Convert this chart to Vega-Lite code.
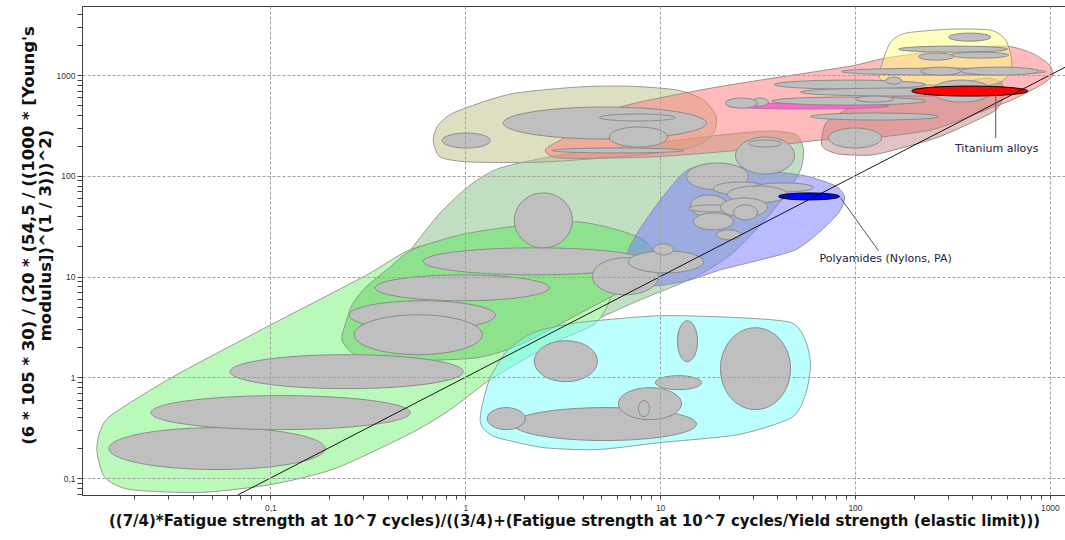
{
  "width": 984,
  "height": 489,
  "autosize": "none",
  "padding": {"left": 82, "top": 6, "right": 0, "bottom": 45},
  "background": "white",
  "config": {"view": {"stroke": "#404040", "strokeWidth": 1}, "font": "DejaVu Sans"},
  "datasets": {
    "env": [
      {"g":"sage","k":1,"x":0.4636,"y":13.09},{"g":"sage","k":2,"x":0.5342,"y":19.29},{"g":"sage","k":3,"x":0.7439,"y":42.88},{"g":"sage","k":4,"x":1.061,"y":81.23},{"g":"sage","k":5,"x":1.512,"y":119.8},{"g":"sage","k":6,"x":3.075,"y":161.1},{"g":"sage","k":7,"x":7.923,"y":202.4},{"g":"sage","k":8,"x":20.4,"y":254.3},{"g":"sage","k":9,"x":36.86,"y":278.6},{"g":"sage","k":10,"x":50.13,"y":254.3},{"g":"sage","k":11,"x":54.45,"y":180.5},{"g":"sage","k":12,"x":52.55,"y":114.4},{"g":"sage","k":13,"x":44.01,"y":64.7},{"g":"sage","k":14,"x":32.74,"y":32.61},{"g":"sage","k":15,"x":22.96,"y":16.45},{"g":"sage","k":16,"x":14.83,"y":9.73},{"g":"sage","k":17,"x":7.923,"y":5.89},{"g":"sage","k":18,"x":4.652,"y":3.73},{"g":"sage","k":19,"x":3.075,"y":2.65},{"g":"sage","k":20,"x":1.512,"y":3.73},{"g":"sage","k":21,"x":0.7439,"y":5.89},
      {"g":"bg","k":1,"x":0.01288,"y":0.1835},{"g":"bg","k":2,"x":0.01335,"y":0.2896},{"g":"bg","k":3,"x":0.01538,"y":0.427},{"g":"bg","k":4,"x":0.0324,"y":1.039},{"g":"bg","k":5,"x":0.1008,"y":3.329},{"g":"bg","k":6,"x":0.3065,"y":10.18},{"g":"bg","k":7,"x":0.5342,"y":18.86},{"g":"bg","k":8,"x":1.061,"y":24.24},{"g":"bg","k":9,"x":2.733,"y":18.44},{"g":"bg","k":10,"x":5.555,"y":8.291},{"g":"bg","k":11,"x":4.764,"y":3.565},{"g":"bg","k":12,"x":3.075,"y":2.363},{"g":"bg","k":13,"x":1.916,"y":1.431},{"g":"bg","k":14,"x":1.297,"y":0.906},{"g":"bg","k":15,"x":0.8375,"y":0.4785},{"g":"bg","k":16,"x":0.5342,"y":0.2831},{"g":"bg","k":17,"x":0.2149,"y":0.1245},{"g":"bg","k":18,"x":0.1008,"y":0.08642},{"g":"bg","k":19,"x":0.04355,"y":0.07199},{"g":"bg","k":20,"x":0.01903,"y":0.07709},{"g":"bg","k":21,"x":0.01416,"y":0.1014},
      {"g":"mid","k":1,"x":0.2335,"y":2.31},{"g":"mid","k":2,"x":0.2447,"y":3.565},{"g":"mid","k":3,"x":0.2628,"y":5.253},{"g":"mid","k":4,"x":0.3065,"y":7.745},{"g":"mid","k":5,"x":0.4072,"y":12.23},{"g":"mid","k":6,"x":0.5342,"y":18.44},{"g":"mid","k":7,"x":0.9426,"y":25.96},{"g":"mid","k":8,"x":1.702,"y":31.15},{"g":"mid","k":9,"x":3.761,"y":34.92},{"g":"mid","k":10,"x":6.035,"y":29.1},{"g":"mid","k":11,"x":8.208,"y":23.15},{"g":"mid","k":12,"x":9.572,"y":16.08},{"g":"mid","k":13,"x":9.13,"y":11.68},{"g":"mid","k":14,"x":6.792,"y":7.745},{"g":"mid","k":15,"x":3.761,"y":4.182},{"g":"mid","k":16,"x":1.916,"y":2.109},{"g":"mid","k":17,"x":1.152,"y":1.567},{"g":"mid","k":18,"x":0.5219,"y":1.464},{"g":"mid","k":19,"x":0.2888,"y":1.567},
      {"g":"khaki","k":1,"x":0.685,"y":226.9},{"g":"khaki","k":2,"x":0.7268,"y":319.4},{"g":"khaki","k":3,"x":0.8885,"y":429.9},{"g":"khaki","k":4,"x":1.702,"y":648.1},{"g":"khaki","k":5,"x":3.761,"y":760.4},{"g":"khaki","k":6,"x":6.792,"y":778},{"g":"khaki","k":7,"x":12.27,"y":710},{"g":"khaki","k":8,"x":16.69,"y":565.3},{"g":"khaki","k":9,"x":19.46,"y":383.4},{"g":"khaki","k":10,"x":18.56,"y":254.3},{"g":"khaki","k":11,"x":14.83,"y":193.4},{"g":"khaki","k":12,"x":7.923,"y":161.1},{"g":"khaki","k":13,"x":2.515,"y":137.3},{"g":"khaki","k":14,"x":1.061,"y":137.3},{"g":"khaki","k":15,"x":0.7439,"y":153.9},
      {"g":"pink","k":1,"x":2.576,"y":180.5},{"g":"pink","k":2,"x":3.075,"y":226.9},{"g":"pink","k":3,"x":6.035,"y":471},{"g":"pink","k":4,"x":16.11,"y":710},{"g":"pink","k":5,"x":32.74,"y":892.2},{"g":"pink","k":6,"x":94.93,"y":1228},{"g":"pink","k":7,"x":143.6,"y":1474},{"g":"pink","k":8,"x":309.8,"y":1810},{"g":"pink","k":9,"x":593.7,"y":1939},{"g":"pink","k":10,"x":807.3,"y":1652},{"g":"pink","k":11,"x":987.2,"y":1285},{"g":"pink","k":12,"x":1035,"y":1000},{"g":"pink","k":13,"x":898.1,"y":796.1},{"g":"pink","k":14,"x":637.3,"y":565.3},{"g":"pink","k":15,"x":497.3,"y":471},{"g":"pink","k":16,"x":348.6,"y":358.1},{"g":"pink","k":17,"x":244.5,"y":285},{"g":"pink","k":18,"x":135.3,"y":243},{"g":"pink","k":19,"x":66.59,"y":226.9},{"g":"pink","k":20,"x":25.85,"y":180.5},{"g":"pink","k":21,"x":8.916,"y":153.9},{"g":"pink","k":22,"x":3.075,"y":150.5},
      {"g":"rose","k":1,"x":67.38,"y":226.9},{"g":"rose","k":2,"x":71.46,"y":342.1},{"g":"rose","k":3,"x":94.93,"y":471},{"g":"rose","k":4,"x":171.5,"y":633.5},{"g":"rose","k":5,"x":309.8,"y":796.1},{"g":"rose","k":6,"x":468.7,"y":933.9},{"g":"rose","k":7,"x":559.5,"y":852.2},{"g":"rose","k":8,"x":579.7,"y":633.5},{"g":"rose","k":9,"x":527.6,"y":449.9},{"g":"rose","k":10,"x":392.4,"y":334.4},{"g":"rose","k":11,"x":268.8,"y":243},{"g":"rose","k":12,"x":181.9,"y":193.4},{"g":"rose","k":13,"x":121.7,"y":161.1},{"g":"rose","k":14,"x":82.36,"y":164.8},{"g":"rose","k":15,"x":68.98,"y":189},
      {"g":"yellow","k":1,"x":136.9,"y":892.2},{"g":"yellow","k":2,"x":138.6,"y":1345},{"g":"yellow","k":3,"x":152.3,"y":2123},{"g":"yellow","k":4,"x":181.9,"y":2609},{"g":"yellow","k":5,"x":309.8,"y":2857},{"g":"yellow","k":6,"x":497.3,"y":2793},{"g":"yellow","k":7,"x":593.7,"y":2223},{"g":"yellow","k":8,"x":637.3,"y":1408},{"g":"yellow","k":9,"x":615.1,"y":1000},{"g":"yellow","k":10,"x":497.3,"y":796.1},{"g":"yellow","k":11,"x":244.5,"y":796.1},
      {"g":"blue","k":1,"x":6.792,"y":16.45},{"g":"blue","k":2,"x":7.646,"y":27.18},{"g":"blue","k":3,"x":10.04,"y":57.7},{"g":"blue","k":4,"x":13.81,"y":114.4},{"g":"blue","k":5,"x":20.4,"y":128.2},{"g":"blue","k":6,"x":32.74,"y":114.4},{"g":"blue","k":7,"x":55.76,"y":99.77},{"g":"blue","k":8,"x":79.49,"y":79.42},{"g":"blue","k":9,"x":88.45,"y":61.78},{"g":"blue","k":10,"x":82.36,"y":42.88},{"g":"blue","k":11,"x":65.01,"y":27.18},{"g":"blue","k":12,"x":49.54,"y":18.44},{"g":"blue","k":13,"x":32.74,"y":14.67},{"g":"blue","k":14,"x":20.4,"y":11.68},{"g":"blue","k":15,"x":14.31,"y":9.296},{"g":"blue","k":16,"x":9.686,"y":8.104},{"g":"blue","k":17,"x":7.467,"y":8.882},
      {"g":"cyan","k":1,"x":1.194,"y":0.3724},{"g":"cyan","k":2,"x":1.223,"y":0.5364},{"g":"cyan","k":3,"x":1.344,"y":0.9932},{"g":"cyan","k":4,"x":1.643,"y":1.839},{"g":"cyan","k":5,"x":2.235,"y":2.773},{"g":"cyan","k":6,"x":3.761,"y":3.485},{"g":"cyan","k":7,"x":10.04,"y":4.088},{"g":"cyan","k":8,"x":25.85,"y":3.905},{"g":"cyan","k":9,"x":47.25,"y":3.485},{"g":"cyan","k":10,"x":55.76,"y":2.31},{"g":"cyan","k":11,"x":59.16,"y":1.336},{"g":"cyan","k":12,"x":55.76,"y":0.6738},{"g":"cyan","k":13,"x":47.25,"y":0.3987},{"g":"cyan","k":14,"x":25.25,"y":0.2705},{"g":"cyan","k":15,"x":10.04,"y":0.2253},{"g":"cyan","k":16,"x":4.764,"y":0.192},{"g":"cyan","k":17,"x":2.515,"y":0.201},{"g":"cyan","k":18,"x":1.46,"y":0.2526},{"g":"cyan","k":19,"x":1.252,"y":0.303}
    ],
    "ell": [
      {"e":"K2","k":1,"x":1.567,"y":334.4},{"e":"K2","k":2,"x":5.206,"y":481.9},{"e":"K2","k":3,"x":17.29,"y":334.4},{"e":"K2","k":4,"x":5.206,"y":232.2},
      {"e":"K3","k":1,"x":4.879,"y":379.1},{"e":"K3","k":2,"x":7.646,"y":410.6},{"e":"K3","k":3,"x":11.98,"y":379.1},{"e":"K3","k":4,"x":7.646,"y":350},
      {"e":"K4","k":1,"x":5.491,"y":243},{"e":"K4","k":2,"x":7.736,"y":305.2},{"e":"K4","k":3,"x":10.9,"y":243},{"e":"K4","k":4,"x":7.736,"y":193.4},
      {"e":"K5","k":1,"x":2.798,"y":178.5},{"e":"K5","k":2,"x":6.071,"y":189},{"e":"K5","k":3,"x":13.17,"y":178.5},{"e":"K5","k":4,"x":6.071,"y":168.7},
      {"e":"K1","k":1,"x":0.7617,"y":224.3},{"e":"K1","k":2,"x":1.012,"y":266.2},{"e":"K1","k":3,"x":1.344,"y":224.3},{"e":"K1","k":4,"x":1.012,"y":189},
      {"e":"P8","k":1,"x":85.36,"y":1083},{"e":"P8","k":2,"x":285.1,"y":1173},{"e":"P8","k":3,"x":952.7,"y":1083},{"e":"P8","k":4,"x":285.1,"y":1000},
      {"e":"P9","k":1,"x":217.3,"y":1095},{"e":"P9","k":2,"x":275.2,"y":1200},{"e":"P9","k":3,"x":348.6,"y":1095},{"e":"P9","k":4,"x":275.2,"y":1000},
      {"e":"P10","k":1,"x":348.6,"y":1095},{"e":"P10","k":2,"x":552.9,"y":1200},{"e":"P10","k":3,"x":877,"y":1095},{"e":"P10","k":4,"x":552.9,"y":1000},
      {"e":"Y1","k":1,"x":302.5,"y":2380},{"e":"Y1","k":2,"x":387.8,"y":2609},{"e":"Y1","k":3,"x":497.3,"y":2380},{"e":"Y1","k":4,"x":387.8,"y":2173},
      {"e":"Y2","k":1,"x":167.5,"y":1810},{"e":"Y2","k":2,"x":319,"y":1939},{"e":"Y2","k":3,"x":607.9,"y":1810},{"e":"Y2","k":4,"x":319,"y":1690},
      {"e":"Y4","k":1,"x":309.8,"y":1579},{"e":"Y4","k":2,"x":436.5,"y":1690},{"e":"Y4","k":3,"x":615.1,"y":1579},{"e":"Y4","k":4,"x":436.5,"y":1474},
      {"e":"Y3","k":1,"x":212.2,"y":1525},{"e":"Y3","k":2,"x":261,"y":1652},{"e":"Y3","k":3,"x":320.9,"y":1525},{"e":"Y3","k":4,"x":261,"y":1408},
      {"e":"P2","k":1,"x":38.65,"y":805.1},{"e":"P2","k":2,"x":94.37,"y":892.2},{"e":"P2","k":3,"x":230.5,"y":805.1},{"e":"P2","k":4,"x":94.37,"y":726.5},
      {"e":"P11","k":1,"x":143.6,"y":882.1},{"e":"P11","k":2,"x":157.9,"y":955.4},{"e":"P11","k":3,"x":173.5,"y":882.1},{"e":"P11","k":4,"x":157.9,"y":814.4},
      {"e":"P13","k":1,"x":52.55,"y":678.4},{"e":"P13","k":2,"x":166.5,"y":743.3},{"e":"P13","k":3,"x":527.6,"y":678.4},{"e":"P13","k":4,"x":166.5,"y":619.3},
      {"e":"P12","k":1,"x":247.5,"y":694},{"e":"P12","k":2,"x":352.7,"y":892.2},{"e":"P12","k":3,"x":503.2,"y":694},{"e":"P12","k":4,"x":352.7,"y":540},
      {"e":"P3","k":1,"x":37.3,"y":552.6},{"e":"P3","k":2,"x":92.71,"y":605.4},{"e":"P3","k":3,"x":230.5,"y":552.6},{"e":"P3","k":4,"x":92.71,"y":504.3},
      {"e":"P4","k":1,"x":29.43,"y":540},{"e":"P4","k":2,"x":32.55,"y":591.7},{"e":"P4","k":3,"x":35.99,"y":540},{"e":"P4","k":4,"x":32.55,"y":492.9},
      {"e":"P1","k":1,"x":21.65,"y":527.8},{"e":"P1","k":2,"x":26.16,"y":591.7},{"e":"P1","k":3,"x":31.6,"y":527.8},{"e":"P1","k":4,"x":26.16,"y":471},
      {"e":"P5","k":1,"x":100.7,"y":578.4},{"e":"P5","k":2,"x":126.1,"y":619.3},{"e":"P5","k":3,"x":157.9,"y":578.4},{"e":"P5","k":4,"x":126.1,"y":540},
      {"e":"P6","k":1,"x":59.16,"y":387.9},{"e":"P6","k":2,"x":126.1,"y":420.1},{"e":"P6","k":3,"x":268.8,"y":387.9},{"e":"P6","k":4,"x":126.1,"y":358.1},
      {"e":"P7","k":1,"x":73.16,"y":237.5},{"e":"P7","k":2,"x":100.1,"y":298.3},{"e":"P7","k":3,"x":136.9,"y":237.5},{"e":"P7","k":4,"x":100.1,"y":189},
      {"e":"G1","k":1,"x":0.01484,"y":0.1965},{"e":"G1","k":2,"x":0.05324,"y":0.317},{"e":"G1","k":3,"x":0.191,"y":0.1965},{"e":"G1","k":4,"x":0.05324,"y":0.1217},
      {"e":"G2","k":1,"x":0.02439,"y":0.4468},{"e":"G2","k":2,"x":0.1128,"y":0.659},{"e":"G2","k":3,"x":0.5219,"y":0.4468},{"e":"G2","k":4,"x":0.1128,"y":0.303},
      {"e":"G3","k":1,"x":0.06209,"y":1.139},{"e":"G3","k":2,"x":0.2462,"y":1.68},{"e":"G3","k":3,"x":0.9766,"y":1.139},{"e":"G3","k":4,"x":0.2462,"y":0.773},
      {"e":"G5","k":1,"x":0.2536,"y":4.134},{"e":"G5","k":2,"x":0.6015,"y":5.76},{"e":"G5","k":3,"x":1.426,"y":4.134},{"e":"G5","k":4,"x":0.6015,"y":2.97},
      {"e":"G4","k":1,"x":0.2691,"y":2.65},{"e":"G4","k":2,"x":0.5736,"y":4.18},{"e":"G4","k":3,"x":1.223,"y":2.65},{"e":"G4","k":4,"x":0.5736,"y":1.68},
      {"e":"G6","k":1,"x":0.3449,"y":7.745},{"e":"G6","k":2,"x":0.9652,"y":10.4},{"e":"G6","k":3,"x":2.701,"y":7.745},{"e":"G6","k":4,"x":0.9652,"y":5.76},
      {"e":"G7","k":1,"x":0.6085,"y":14.18},{"e":"G7","k":2,"x":2.288,"y":19.3},{"e":"G7","k":3,"x":8.606,"y":14.18},{"e":"G7","k":4,"x":2.288,"y":10.4},
      {"e":"G11","k":1,"x":1.785,"y":36.14},{"e":"G11","k":2,"x":2.515,"y":67.7},{"e":"G11","k":3,"x":3.544,"y":36.14},{"e":"G11","k":4,"x":2.515,"y":19.3},
      {"e":"G8","k":1,"x":4.49,"y":10.07},{"e":"G8","k":2,"x":6.634,"y":15.4},{"e":"G8","k":3,"x":9.802,"y":10.07},{"e":"G8","k":4,"x":6.634,"y":6.6},
      {"e":"G9","k":1,"x":6.875,"y":14.02},{"e":"G9","k":2,"x":10.71,"y":18},{"e":"G9","k":3,"x":16.69,"y":14.02},{"e":"G9","k":4,"x":10.71,"y":10.9},
      {"e":"G10","k":1,"x":9.239,"y":18.64},{"e":"G10","k":2,"x":10.4,"y":21.1},{"e":"G10","k":3,"x":11.7,"y":18.64},{"e":"G10","k":4,"x":10.4,"y":16.4},
      {"e":"B1","k":1,"x":24.36,"y":159.3},{"e":"B1","k":2,"x":34.74,"y":243},{"e":"B1","k":3,"x":48.95,"y":159.3},{"e":"B1","k":4,"x":34.74,"y":104.4},
      {"e":"B12","k":1,"x":28.42,"y":209.5},{"e":"B12","k":2,"x":34.54,"y":226.9},{"e":"B12","k":3,"x":41.98,"y":209.5},{"e":"B12","k":4,"x":34.54,"y":193.4},
      {"e":"B2","k":1,"x":13.65,"y":98.65},{"e":"B2","k":2,"x":19.69,"y":134.2},{"e":"B2","k":3,"x":28.42,"y":98.65},{"e":"B2","k":4,"x":19.69,"y":72.5},
      {"e":"B3","k":1,"x":18.78,"y":75.03},{"e":"B3","k":2,"x":25.85,"y":87},{"e":"B3","k":3,"x":35.58,"y":75.03},{"e":"B3","k":4,"x":25.85,"y":64.7},
      {"e":"B5","k":1,"x":30.15,"y":76.74},{"e":"B5","k":2,"x":42.98,"y":85},{"e":"B5","k":3,"x":61.29,"y":76.74},{"e":"B5","k":4,"x":42.98,"y":69.2},
      {"e":"B4","k":1,"x":22.17,"y":65.41},{"e":"B4","k":2,"x":31.6,"y":79.4},{"e":"B4","k":3,"x":45.06,"y":65.41},{"e":"B4","k":4,"x":31.6,"y":53.9},
      {"e":"B6","k":1,"x":14.31,"y":50.3},{"e":"B6","k":2,"x":17.81,"y":64.7},{"e":"B6","k":3,"x":22.17,"y":50.3},{"e":"B6","k":4,"x":17.81,"y":39.2},
      {"e":"B7","k":1,"x":13.98,"y":47.53},{"e":"B7","k":2,"x":18.67,"y":51.5},{"e":"B7","k":3,"x":24.95,"y":47.53},{"e":"B7","k":4,"x":18.67,"y":43.9},
      {"e":"B8","k":1,"x":20.4,"y":48.63},{"e":"B8","k":2,"x":26.94,"y":60.4},{"e":"B8","k":3,"x":35.58,"y":48.63},{"e":"B8","k":4,"x":26.94,"y":39.2},
      {"e":"B9","k":1,"x":23.79,"y":43.39},{"e":"B9","k":2,"x":27.42,"y":51.5},{"e":"B9","k":3,"x":31.6,"y":43.39},{"e":"B9","k":4,"x":27.42,"y":36.6},
      {"e":"B10","k":1,"x":14.83,"y":35.33},{"e":"B10","k":2,"x":18.78,"y":42.9},{"e":"B10","k":3,"x":23.79,"y":35.33},{"e":"B10","k":4,"x":18.78,"y":29.1},
      {"e":"B11","k":1,"x":19.46,"y":25.96},{"e":"B11","k":2,"x":22.43,"y":29.1},{"e":"B11","k":3,"x":25.85,"y":25.96},{"e":"B11","k":4,"x":22.43,"y":23.2},
      {"e":"C8","k":1,"x":20.4,"y":1.219},{"e":"C8","k":2,"x":30.86,"y":3.11},{"e":"C8","k":3,"x":46.69,"y":1.219},{"e":"C8","k":4,"x":30.86,"y":0.479},
      {"e":"C1","k":1,"x":2.262,"y":1.447},{"e":"C1","k":2,"x":3.282,"y":2.31},{"e":"C1","k":3,"x":4.764,"y":1.447},{"e":"C1","k":4,"x":3.282,"y":0.906},
      {"e":"C2","k":1,"x":12.27,"y":2.284},{"e":"C2","k":2,"x":13.81,"y":3.65},{"e":"C2","k":3,"x":15.55,"y":2.284},{"e":"C2","k":4,"x":13.81,"y":1.43},
      {"e":"C3","k":1,"x":9.46,"y":0.886},{"e":"C3","k":2,"x":12.42,"y":1.04},{"e":"C3","k":3,"x":16.3,"y":0.886},{"e":"C3","k":4,"x":12.42,"y":0.755},
      {"e":"C7","k":1,"x":1.764,"y":0.3438},{"e":"C7","k":2,"x":5.206,"y":0.501},{"e":"C7","k":3,"x":15.37,"y":0.3438},{"e":"C7","k":4,"x":5.206,"y":0.236},
      {"e":"C6","k":1,"x":1.297,"y":0.3897},{"e":"C6","k":2,"x":1.624,"y":0.501},{"e":"C6","k":3,"x":2.033,"y":0.3897},{"e":"C6","k":4,"x":1.624,"y":0.303},
      {"e":"C4","k":1,"x":6.107,"y":0.5486},{"e":"C4","k":2,"x":8.863,"y":0.79},{"e":"C4","k":3,"x":12.87,"y":0.5486},{"e":"C4","k":4,"x":8.863,"y":0.381},
      {"e":"C5","k":1,"x":7.736,"y":0.4897},{"e":"C5","k":2,"x":8.257,"y":0.587},{"e":"C5","k":3,"x":8.811,"y":0.4897},{"e":"C5","k":4,"x":8.257,"y":0.408}
    ],
    "hl": [
      {"e":"MG","k":1,"x":22.43,"y":492.9},{"e":"MG","k":2,"x":57.77,"y":527.8},{"e":"MG","k":3,"x":148.8,"y":492.9},{"e":"MG","k":4,"x":57.77,"y":460.3},
      {"e":"TI","k":1,"x":195.3,"y":694},{"e":"TI","k":2,"x":387.8,"y":778},{"e":"TI","k":3,"x":770.1,"y":694},{"e":"TI","k":4,"x":387.8,"y":619.3},
      {"e":"PA","k":1,"x":40.52,"y":62.49},{"e":"PA","k":2,"x":58.12,"y":67.7},{"e":"PA","k":3,"x":83.36,"y":62.49},{"e":"PA","k":4,"x":58.12,"y":57.7}
    ],
    "diag": [{"x":0.068,"y":0.068},{"x":1210,"y":1210}],
    "links": [{"x":527.6,"y":663.1,"x2":527.6,"y2":237.5},{"x":84.33,"y":60.4,"x2":132.2,"y2":18.0}],
    "notes": [{"x":533.7,"y":184.7,"text":"Titanium alloys"},{"x":143.6,"y":14.84,"text":"Polyamides (Nylons, PA)"}]
  },
  "encoding": {
    "x": {
      "field": "x", "type": "quantitative",
      "scale": {"type": "log", "domain": [0.0108, 1210], "nice": false, "zero": false},
      "axis": {
        "values": [0.02,0.03,0.04,0.05,0.06,0.07,0.08,0.09,0.1,0.2,0.3,0.4,0.5,0.6,0.7,0.8,0.9,1,2,3,4,5,6,7,8,9,10,20,30,40,50,60,70,80,90,100,200,300,400,500,600,700,800,900,1000],
        "labelExpr": "indexof([0.1,1,10,100,1000], datum.value) >= 0 ? replace(toString(datum.value), '.', ',') : ''",
        "labelFont": "Liberation Sans", "labelFontSize": 8.5, "labelColor": "#333333", "labelPadding": 4, "labelOverlap": false, "labelFlush": false,
        "tickSize": 4, "tickColor": "#404040", "domainColor": "#404040",
        "grid": true, "gridColor": "#a0a0a0", "gridDash": [3, 2],
        "gridOpacity": {"condition": {"test": "indexof([0.1,1,10,100,1000], datum.value) >= 0", "value": 1}, "value": 0},
        "zindex": 1,
        "title": "((7/4)*Fatigue strength at 10^7 cycles)/((3/4)+(Fatigue strength at 10^7 cycles/Yield strength (elastic limit)))",
        "titleFont": "DejaVu Sans", "titleFontSize": 15, "titleFontWeight": "bold", "titleColor": "#111111", "titlePadding": 2
      }
    },
    "y": {
      "field": "y", "type": "quantitative",
      "scale": {"type": "log", "domain": [0.068, 4850], "nice": false, "zero": false},
      "axis": {
        "values": [0.07,0.08,0.09,0.1,0.2,0.3,0.4,0.5,0.6,0.7,0.8,0.9,1,2,3,4,5,6,7,8,9,10,20,30,40,50,60,70,80,90,100,200,300,400,500,600,700,800,900,1000,2000,3000,4000],
        "labelExpr": "indexof([0.1,1,10,100,1000], datum.value) >= 0 ? replace(toString(datum.value), '.', ',') : ''",
        "labelFont": "Liberation Sans", "labelFontSize": 8.5, "labelColor": "#333333", "labelPadding": 2, "labelOverlap": false, "labelFlush": false,
        "tickSize": 5, "tickColor": "#404040", "domainColor": "#404040",
        "grid": true, "gridColor": "#a0a0a0", "gridDash": [3, 2],
        "gridOpacity": {"condition": {"test": "indexof([0.1,1,10,100,1000], datum.value) >= 0", "value": 1}, "value": 0},
        "zindex": 1,
        "title": ["(6 * 105 * 30) / (20 * (54,5 / ((1000 * [Young's", "modulus])^(1 / 3)))^2)"],
        "titleFont": "DejaVu Sans", "titleFontSize": 16.5, "titleFontWeight": "bold", "titleColor": "#111111",
        "titleAngle": -90, "titleAlign": "center", "titleBaseline": "bottom", "titleLineHeight": 17,
        "titleX": -46, "titleY": 229
      }
    }
  },
  "layer": [
    {"data": {"name": "env"}, "transform": [{"filter": "datum.g === 'sage'"}], "mark": {"type": "line", "interpolate": "cardinal-closed", "tension": 0.3, "fill": "#C1DFC1", "stroke": "#9a9a9a", "strokeWidth": 1}, "encoding": {"order": {"field": "k", "type": "quantitative"}}},
    {"data": {"name": "env"}, "transform": [{"filter": "datum.g === 'bg'"}], "mark": {"type": "line", "interpolate": "cardinal-closed", "tension": 0.3, "fill": "#BBF9BB", "stroke": "#9a9a9a", "strokeWidth": 1}, "encoding": {"order": {"field": "k", "type": "quantitative"}}},
    {"data": {"name": "env"}, "transform": [{"filter": "datum.g === 'mid'"}], "mark": {"type": "line", "interpolate": "cardinal-closed", "tension": 0.3, "fill": "#8EE28E", "stroke": "#8a9a8a", "strokeWidth": 1}, "encoding": {"order": {"field": "k", "type": "quantitative"}}},
    {"data": {"name": "env"}, "transform": [{"filter": "datum.g === 'khaki'"}], "mark": {"type": "line", "interpolate": "cardinal-closed", "tension": 0.3, "fill": "#BDBD81", "fillOpacity": 0.5, "stroke": "#9a9a9a", "strokeWidth": 1}, "encoding": {"order": {"field": "k", "type": "quantitative"}}},
    {"data": {"name": "env"}, "transform": [{"filter": "datum.g === 'pink'"}], "mark": {"type": "line", "interpolate": "cardinal-closed", "tension": 0.3, "fill": "#FF7777", "fillOpacity": 0.5, "stroke": "#a09090", "strokeWidth": 1}, "encoding": {"order": {"field": "k", "type": "quantitative"}}},
    {"data": {"name": "env"}, "transform": [{"filter": "datum.g === 'rose'"}], "mark": {"type": "line", "interpolate": "cardinal-closed", "tension": 0.3, "fill": "#BB7D7D", "fillOpacity": 0.45, "stroke": "#a08888", "strokeWidth": 1}, "encoding": {"order": {"field": "k", "type": "quantitative"}}},
    {"data": {"name": "env"}, "transform": [{"filter": "datum.g === 'yellow'"}], "mark": {"type": "line", "interpolate": "cardinal-closed", "tension": 0.3, "fill": "#FFFF7D", "fillOpacity": 0.5, "stroke": "#a0a090", "strokeWidth": 1}, "encoding": {"order": {"field": "k", "type": "quantitative"}}},
    {"data": {"name": "env"}, "transform": [{"filter": "datum.g === 'blue'"}], "mark": {"type": "line", "interpolate": "cardinal-closed", "tension": 0.3, "fill": "#7777FF", "fillOpacity": 0.5, "stroke": "#9090a8", "strokeWidth": 1}, "encoding": {"order": {"field": "k", "type": "quantitative"}}},
    {"data": {"name": "env"}, "transform": [{"filter": "datum.g === 'cyan'"}], "mark": {"type": "line", "interpolate": "cardinal-closed", "tension": 0.3, "fill": "#77FFFF", "fillOpacity": 0.5, "stroke": "#90a0a0", "strokeWidth": 1}, "encoding": {"order": {"field": "k", "type": "quantitative"}}},
    {"data": {"name": "hl"}, "transform": [{"filter": "datum.e === 'MG'"}], "mark": {"type": "line", "interpolate": "cardinal-closed", "tension": -0.657, "fill": "#F46CC8", "stroke": "#c060a0", "strokeWidth": 0.8}, "encoding": {"order": {"field": "k", "type": "quantitative"}}},
    {"data": {"name": "ell"}, "mark": {"type": "line", "interpolate": "cardinal-closed", "tension": -0.657, "fill": "#BFBFBF", "stroke": "#8a8a8a", "strokeWidth": 1}, "encoding": {"detail": {"field": "e"}, "order": {"field": "k", "type": "quantitative"}}},
    {"data": {"name": "hl"}, "transform": [{"filter": "datum.e === 'TI'"}], "mark": {"type": "line", "interpolate": "cardinal-closed", "tension": -0.657, "fill": "#FF0000", "stroke": "#000000", "strokeWidth": 1}, "encoding": {"order": {"field": "k", "type": "quantitative"}}},
    {"data": {"name": "hl"}, "transform": [{"filter": "datum.e === 'PA'"}], "mark": {"type": "line", "interpolate": "cardinal-closed", "tension": -0.657, "fill": "#0000FF", "stroke": "#000000", "strokeWidth": 1}, "encoding": {"order": {"field": "k", "type": "quantitative"}}},
    {"data": {"name": "diag"}, "mark": {"type": "line", "stroke": "#000000", "strokeWidth": 0.9}, "encoding": {}},
    {"data": {"name": "links"}, "mark": {"type": "rule", "stroke": "#555555", "strokeWidth": 1}, "encoding": {"x2": {"field": "x2"}, "y2": {"field": "y2"}}},
    {"data": {"name": "notes"}, "mark": {"type": "text", "font": "DejaVu Sans", "fontSize": 11, "color": "#202040", "align": "center", "baseline": "middle"}, "encoding": {"text": {"field": "text"}}}
  ]
}
